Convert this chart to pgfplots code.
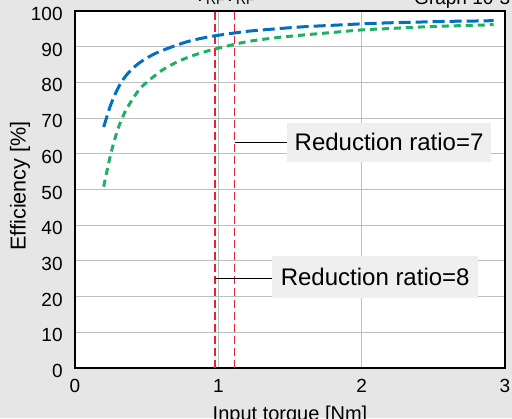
\documentclass[border=0pt]{standalone}
\usepackage{pgfplots}
\pgfplotsset{compat=1.18}
\usepackage{fontspec}
\setmainfont{Liberation Sans}
\definecolor{bgc}{RGB}{230,230,230}
\definecolor{boxc}{RGB}{239,239,239}
\definecolor{blu}{RGB}{0,112,192}
\definecolor{grn}{RGB}{30,176,100}
\definecolor{redl}{RGB}{235,30,50}
\definecolor{gridc}{RGB}{190,190,190}
\begin{document}
\begin{tikzpicture}
\path[use as bounding box, fill=bgc] (-37.5pt,-25pt) rectangle (218.5pt,184pt);
\begin{axis}[
  at={(0pt,0pt)}, anchor=south west,
  scale only axis, width=215pt, height=178.5pt,
  xmin=0, xmax=3, ymin=0, ymax=100,
  xtick={0,1,2,3}, ytick={0,10,...,100},
  major tick length=0pt,
  grid=major, grid style={gridc, line width=0.5pt},
  axis line style={black, line width=0.9pt},
  axis background/.style={fill=white},
  /pgf/number format/assume math mode=true,
  tick label style={font=\fontsize{9.5}{11}\selectfont},
  xticklabel style={anchor=north, inner sep=0pt, yshift=-5.5pt},
  yticklabel style={anchor=east, inner sep=0pt, xshift=-6pt, yshift=-1.5pt},
  xlabel={Input torque [Nm]},
  xlabel style={font=\fontsize{10}{12}\selectfont, at={(axis description cs:0.5,0)}, anchor=north, inner sep=0pt, yshift=-19pt},
  ylabel={Efficiency [\%]},
  ylabel style={font=\fontsize{10.8}{12}\selectfont, at={([xshift=-27.5pt]axis description cs:0,0.51)}, anchor=center, inner sep=0pt},
  clip=false,
]
\addplot[redl, line width=0.8pt, dash pattern=on 4pt off 2pt] coordinates {(0.975,0) (0.975,100)};
\addplot[redl, line width=0.8pt, dash pattern=on 4pt off 2pt] coordinates {(1.114,0) (1.114,100)};
\addplot[grn, line width=1.5pt, smooth, dash pattern=on 3.5pt off 2.5pt] coordinates {
(0.2,50.8) (0.25,60) (0.3,67) (0.35,71.8) (0.4,75.2) (0.45,78.1) (0.5,80.0) (0.6,83.2) (0.7,85.5) (0.8,87.2) (0.9,88.5) (1.0,89.6) (1.2,91.4) (1.4,92.5) (1.6,93.3) (1.8,94.0) (2.0,94.7) (2.2,95.1) (2.4,95.5) (2.6,95.8) (2.8,96.0) (2.92,96.2)};
\addplot[blu, line width=1.5pt, smooth, dash pattern=on 6pt off 2.5pt] coordinates {
(0.2,67.5) (0.25,73.8) (0.3,78.4) (0.35,81.6) (0.4,83.8) (0.45,85.5) (0.5,86.8) (0.55,87.9) (0.6,88.8) (0.7,90.3) (0.8,91.6) (0.9,92.5) (1.0,93.2) (1.2,94.3) (1.4,95.0) (1.6,95.6) (1.8,96.0) (2.0,96.4) (2.2,96.7) (2.4,96.9) (2.6,97.1) (2.8,97.2) (2.92,97.3)};
\draw[black, line width=0.5pt] (axis cs:1.114,63.2) -- (axis cs:1.477,63.2);
\draw[black, line width=0.5pt] (axis cs:0.975,25.1) -- (axis cs:1.373,25.1);
\node[fill=boxc, anchor=west, minimum width=102pt, minimum height=19.5pt, inner sep=0pt, font=\fontsize{12}{14}\selectfont] at (axis cs:1.477,63.2) {Reduction ratio=7};
\node[fill=boxc, anchor=west, minimum width=103pt, minimum height=21pt, inner sep=0pt, font=\fontsize{12}{14}\selectfont] at (axis cs:1.373,25.5) {Reduction ratio=8};
\node[anchor=south, inner sep=0pt, font=\fontsize{10}{12}\selectfont] at (axis cs:0.94,101.7) {T\textsubscript{RF}};
\node[anchor=south, inner sep=0pt, font=\fontsize{10}{12}\selectfont] at (axis cs:1.15,101.7) {T\textsubscript{RF}};
\node[anchor=base east, inner sep=0pt, font=\fontsize{9.5}{11}\selectfont] at (axis cs:3.04,101.9) {Graph 10-3};
\end{axis}
\end{tikzpicture}
\end{document}
